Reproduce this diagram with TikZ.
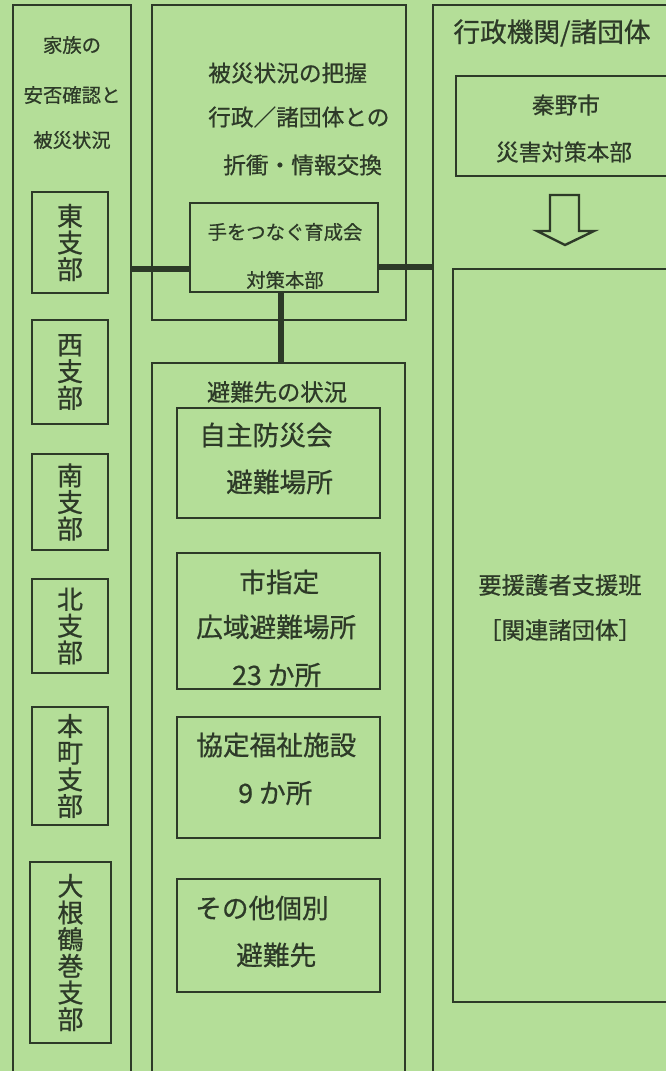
\documentclass[tikz,border=0pt]{standalone}
\usepackage{fontspec}
\setmainfont[FakeBold=0.7]{Noto Sans CJK JP}
\definecolor{paper}{RGB}{180,222,152}
\definecolor{ink}{RGB}{45,58,40}
\newcommand{\jpsize}[1]{\fontsize{#1}{#1}\selectfont}
\newcommand{\drawframe}[6]{
  \node[frame,minimum width=#4*0.75pt,minimum height=#5*0.75pt] (#1) at (#2,#3) {#6};
}

\begin{document}
\begin{tikzpicture}[x=0.75pt,y=-0.75pt,
    frame/.style={draw=ink,line width=1.8pt,inner sep=0pt,align=center,text=ink,
      font=\fontsize{19.5pt}{20pt}\selectfont},
    link/.style={draw=ink,line width=4.5pt},
    lbl/.style={text=ink,inner sep=0pt}]
  \fill[paper] (0,0) rectangle (666,1071);
  \useasboundingbox (0,0) rectangle (666,1071);
  \clip (0,0) rectangle (666,1071);

  % left column: branches
  \drawframe{family}{72}{547.5}{118}{1085}{}
  \node[lbl,font=\jpsize{14.5pt}] at (72,45) {家族の};
  \node[lbl,font=\jpsize{14.5pt}] at (72,95) {安否確認と};
  \node[lbl,font=\jpsize{14.5pt}] at (72,140) {被災状況};
  \drawframe{east}{70}{242.5}{76}{101}{東\\支\\部}
  \drawframe{west}{70}{372}{76}{104}{西\\支\\部}
  \drawframe{south}{70}{502}{76}{96}{南\\支\\部}
  \drawframe{north}{70}{626}{76}{94}{北\\支\\部}
  \drawframe{honcho}{70}{766}{76}{118}{本\\町\\支\\部}
  \drawframe{oone}{70.5}{952.5}{81}{181}{大\\根\\鶴\\巻\\支\\部}

  % middle column
  \drawframe{assess}{279}{162.5}{254}{315}{}
  \node[lbl,anchor=west,font=\jpsize{17pt}] at (208,73) {被災状況の把握};
  \node[lbl,anchor=west,font=\jpsize{17pt}] at (208,117) {行政／諸団体との};
  \node[lbl,anchor=west,font=\jpsize{17pt}] at (223,165) {折衝・情報交換};
  \drawframe{hq}{284}{247.5}{188}{89}{}
  \node[lbl,font=\jpsize{14.5pt}] at (285,232) {手をつなぐ育成会};
  \node[lbl,font=\jpsize{14.5pt}] at (285,280) {対策本部};

  \drawframe{shelter}{278.5}{726.5}{253}{727}{}
  \node[lbl,font=\jpsize{17.5pt}] at (277,392) {避難先の状況};
  \drawframe{bousai}{278.5}{463}{203}{110}{}
  \node[lbl,anchor=west,font=\jpsize{20pt}] at (199,435) {自主防災会};
  \node[lbl,anchor=west,font=\jpsize{20pt}] at (226,482) {避難場所};
  \drawframe{cityarea}{278.5}{621}{203}{136}{}
  \node[lbl,anchor=west,font=\jpsize{20pt}] at (239,582) {市指定};
  \node[lbl,anchor=west,font=\jpsize{20pt}] at (196,627) {広域避難場所};
  \node[lbl,anchor=west,font=\jpsize{20pt}] at (232,675) {23 か所};
  \drawframe{welfare}{278.5}{777.5}{203}{121}{}
  \node[lbl,anchor=west,font=\jpsize{20pt}] at (196,745) {協定福祉施設};
  \node[lbl,anchor=west,font=\jpsize{20pt}] at (238,793) {9 か所};
  \drawframe{other}{278.5}{935.5}{203}{113}{}
  \node[lbl,anchor=west,font=\jpsize{20pt}] at (195,908) {その他個別};
  \node[lbl,anchor=west,font=\jpsize{20pt}] at (236,955) {避難先};

  % right column
  \drawframe{gov}{566.5}{547.5}{267}{1085}{}
  \node[lbl,font=\jpsize{20pt}] at (552,33) {行政機関/諸団体};
  \drawframe{city}{578}{126}{244}{100}{}
  \node[lbl,font=\jpsize{17pt}] at (566,105) {秦野市};
  \node[lbl,font=\jpsize{17pt}] at (564,152) {災害対策本部};
  \drawframe{support}{576.5}{635.5}{247}{733}{}
  \node[lbl,font=\jpsize{17.5pt}] at (560,585) {要援護者支援班};
  \node[lbl,font=\jpsize{17.5pt}] at (560,630) {［関連諸団体］};
  \draw[ink,line width=1.8pt,line join=miter] (550,195) -- (550,231) -- (537,231) -- (565,245)
    -- (594,231) -- (579,231) -- (579,195) -- cycle;

  % connectors
  \coordinate (hqL) at (190,269);
  \coordinate (hqR) at (378,267);
  \draw[link] (family.east |- hqL) -- (hqL);
  \draw[link] (hqR) -- (gov.west |- hqR);
  \draw[link] (hq.south -| 281,0) -- (shelter.north -| 281,0);
\end{tikzpicture}
\end{document}
